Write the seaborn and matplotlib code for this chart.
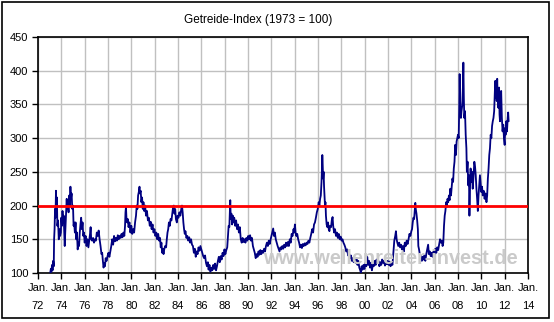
import matplotlib
matplotlib.use("Agg")
import matplotlib.pyplot as plt
import numpy as np
import pandas as pd
import seaborn as sns
from matplotlib.patches import Rectangle

# ---- data (decimal year, index value) ----
years_7382 = [1973.05, 1973.10, 1973.15, 1973.20, 1973.25, 1973.30, 1973.35, 1973.38, 1973.42, 1973.46,
              1973.50, 1973.54, 1973.58, 1973.62, 1973.66, 1973.72, 1973.78, 1973.84, 1973.90, 1973.96,
              1974.00, 1974.05, 1974.10, 1974.15, 1974.20, 1974.25, 1974.29, 1974.33, 1974.40, 1974.46,
              1974.50, 1974.55, 1974.62, 1974.68, 1974.74, 1974.78, 1974.82, 1974.88, 1974.94, 1975.00,
              1975.05, 1975.10, 1975.16, 1975.22, 1975.28, 1975.34, 1975.40, 1975.46, 1975.52, 1975.58,
              1975.64, 1975.70, 1975.76, 1975.82, 1975.88, 1975.94, 1976.00, 1976.08, 1976.16, 1976.24,
              1976.32, 1976.40, 1976.46, 1976.51, 1976.56, 1976.64, 1976.72, 1976.80, 1976.88, 1976.96,
              1977.04, 1977.12, 1977.20, 1977.28, 1977.36, 1977.44, 1977.50, 1977.56, 1977.62, 1977.68,
              1977.74, 1977.80, 1977.88, 1977.96, 1978.04, 1978.12, 1978.20, 1978.28, 1978.36, 1978.44,
              1978.52, 1978.60, 1978.68, 1978.76, 1978.84, 1978.92, 1979.00, 1979.08, 1979.16, 1979.24,
              1979.32, 1979.40, 1979.46, 1979.50, 1979.54, 1979.58, 1979.64, 1979.70, 1979.76, 1979.84,
              1979.92, 1980.00, 1980.08, 1980.16, 1980.24, 1980.32, 1980.40, 1980.46, 1980.52, 1980.58,
              1980.64, 1980.70, 1980.74, 1980.80, 1980.86, 1980.92, 1980.98, 1981.04, 1981.10, 1981.18,
              1981.26, 1981.34, 1981.42, 1981.50, 1981.58, 1981.66, 1981.74, 1981.82, 1981.90, 1981.98,
              1982.06, 1982.14, 1982.22, 1982.30, 1982.38, 1982.46, 1982.52, 1982.58, 1982.64, 1982.70,
              1982.76, 1982.82, 1982.90, 1982.98]
values_7382 = [100, 106, 102, 112, 104, 118, 110, 150, 165, 195,
               182, 222, 200, 212, 170, 178, 150, 165, 155, 160,
               182, 170, 192, 175, 185, 160, 140, 158, 185, 210,
               195, 205, 190, 215, 200, 228, 210, 218, 195, 200,
               170, 175, 160, 175, 150, 160, 135, 145, 140, 160,
               172, 182, 165, 175, 155, 160, 145, 155, 140, 150,
               138, 150, 158, 168, 150, 148, 152, 145, 150, 148,
               160, 155, 163, 150, 140, 128, 130, 118, 108, 115,
               110, 122, 118, 125, 130, 124, 132, 140, 150, 142,
               155, 147, 152, 148, 156, 150, 155, 152, 158, 153,
               160, 155, 170, 190, 198, 182, 175, 180, 168, 175,
               160, 170, 158, 165, 160, 175, 185, 200, 195, 215,
               220, 228, 218, 222, 205, 212, 195, 205, 192, 200,
               185, 192, 178, 182, 170, 176, 165, 172, 160, 165,
               155, 160, 150, 158, 148, 152, 138, 145, 130, 136,
               128, 135, 140, 138]

years_8392 = [1983.04, 1983.10, 1983.16, 1983.22, 1983.30, 1983.36, 1983.44, 1983.52, 1983.58, 1983.64,
              1983.70, 1983.76, 1983.82, 1983.90, 1983.96, 1984.04, 1984.12, 1984.20, 1984.28, 1984.34,
              1984.40, 1984.46, 1984.52, 1984.58, 1984.64, 1984.72, 1984.80, 1984.88, 1984.96, 1985.04,
              1985.12, 1985.20, 1985.28, 1985.36, 1985.44, 1985.52, 1985.60, 1985.68, 1985.76, 1985.84,
              1985.92, 1986.00, 1986.08, 1986.16, 1986.24, 1986.32, 1986.40, 1986.48, 1986.56, 1986.62,
              1986.70, 1986.78, 1986.86, 1986.94, 1987.02, 1987.10, 1987.18, 1987.26, 1987.34, 1987.42,
              1987.50, 1987.58, 1987.66, 1987.74, 1987.82, 1987.90, 1987.98, 1988.06, 1988.14, 1988.22,
              1988.28, 1988.34, 1988.40, 1988.45, 1988.48, 1988.52, 1988.58, 1988.64, 1988.70, 1988.76,
              1988.82, 1988.90, 1988.98, 1989.06, 1989.14, 1989.22, 1989.30, 1989.38, 1989.46, 1989.54,
              1989.62, 1989.70, 1989.78, 1989.86, 1989.94, 1990.02, 1990.10, 1990.18, 1990.26, 1990.34,
              1990.42, 1990.50, 1990.58, 1990.66, 1990.74, 1990.82, 1990.90, 1990.98, 1991.06, 1991.14,
              1991.22, 1991.30, 1991.38, 1991.46, 1991.54, 1991.62, 1991.70, 1991.78, 1991.86, 1991.94,
              1992.02, 1992.10, 1992.16, 1992.22, 1992.30, 1992.38, 1992.46, 1992.54, 1992.62, 1992.70,
              1992.78, 1992.86, 1992.94]
values_8392 = [150, 160, 165, 175, 170, 180, 178, 190, 198, 200,
               188, 195, 180, 175, 185, 182, 190, 185, 195, 200,
               190, 175, 165, 158, 162, 152, 155, 148, 153, 145,
               150, 142, 140, 130, 136, 124, 132, 128, 138, 133,
               140, 135, 130, 125, 122, 126, 115, 110, 116, 105,
               112, 102, 108, 104, 112, 106, 114, 104, 110, 118,
               124, 116, 125, 120, 130, 125, 135, 128, 134, 138,
               155, 170, 168, 195, 208, 180, 188, 172, 185, 175,
               182, 170, 178, 165, 172, 160, 168, 150, 145, 152,
               146, 150, 145, 152, 148, 155, 150, 156, 148, 152,
               140, 135, 130, 122, 128, 124, 132, 127, 134, 128,
               133, 130, 136, 132, 140, 145, 140, 148, 143, 150,
               156, 162, 166, 155, 160, 150, 145, 140, 136, 132,
               138, 135, 140]

years_9302 = [1993.02, 1993.10, 1993.18, 1993.26, 1993.34, 1993.42, 1993.50, 1993.58, 1993.66, 1993.74,
              1993.82, 1993.90, 1993.96, 1994.02, 1994.08, 1994.14, 1994.22, 1994.30, 1994.38, 1994.46,
              1994.54, 1994.62, 1994.70, 1994.78, 1994.86, 1994.94, 1995.02, 1995.10, 1995.18, 1995.26,
              1995.34, 1995.42, 1995.50, 1995.58, 1995.66, 1995.74, 1995.82, 1995.90, 1995.98, 1996.06,
              1996.12, 1996.18, 1996.24, 1996.30, 1996.34, 1996.37, 1996.40, 1996.44, 1996.48, 1996.52,
              1996.56, 1996.60, 1996.64, 1996.68, 1996.74, 1996.80, 1996.86, 1996.92, 1996.98, 1997.04,
              1997.12, 1997.18, 1997.25, 1997.30, 1997.38, 1997.46, 1997.54, 1997.62, 1997.70, 1997.78,
              1997.86, 1997.94, 1998.02, 1998.10, 1998.18, 1998.26, 1998.34, 1998.42, 1998.50, 1998.58,
              1998.66, 1998.74, 1998.82, 1998.90, 1998.98, 1999.06, 1999.14, 1999.22, 1999.30, 1999.38,
              1999.46, 1999.54, 1999.62, 1999.68, 1999.74, 1999.82, 1999.90, 1999.98, 2000.06, 2000.14,
              2000.22, 2000.30, 2000.38, 2000.46, 2000.54, 2000.62, 2000.70, 2000.78, 2000.86, 2000.94,
              2001.02, 2001.10, 2001.18, 2001.26, 2001.34, 2001.42, 2001.50, 2001.58, 2001.66, 2001.74,
              2001.82, 2001.90, 2001.98, 2002.06, 2002.14, 2002.22, 2002.30, 2002.38, 2002.46, 2002.54,
              2002.62, 2002.68, 2002.74, 2002.80, 2002.88, 2002.96]
values_9302 = [136, 142, 138, 145, 140, 146, 140, 150, 145, 158,
               155, 165, 160, 172, 160, 155, 158, 150, 145, 138,
               142, 137, 143, 140, 144, 141, 145, 143, 148, 145,
               152, 158, 165, 160, 172, 175, 182, 190, 195, 205,
               200, 210, 215, 235, 255, 275, 262, 240, 250, 228,
               215, 200, 205, 185, 172, 168, 175, 165, 162, 170,
               168, 178, 183, 170, 160, 165, 155, 160, 152, 158,
               150, 154, 148, 150, 145, 142, 138, 132, 135, 126,
               130, 122, 126, 118, 122, 116, 120, 115, 122, 112,
               118, 108, 104, 100, 110, 105, 112, 106, 115, 110,
               124, 112, 118, 108, 115, 104, 112, 110, 118, 112,
               120, 115, 118, 110, 116, 112, 120, 115, 118, 111,
               117, 113, 118, 112, 117, 110, 116, 112, 130, 148,
               155, 162, 150, 145, 140, 145]

years_0312 = [2003.04, 2003.12, 2003.20, 2003.28, 2003.36, 2003.44, 2003.52, 2003.60, 2003.68, 2003.76,
              2003.84, 2003.92, 2004.00, 2004.06, 2004.12, 2004.18, 2004.24, 2004.30, 2004.34, 2004.38,
              2004.44, 2004.50, 2004.56, 2004.60, 2004.66, 2004.72, 2004.78, 2004.84, 2004.90, 2004.96,
              2005.04, 2005.12, 2005.20, 2005.28, 2005.36, 2005.44, 2005.50, 2005.58, 2005.66, 2005.74,
              2005.82, 2005.90, 2005.98, 2006.06, 2006.14, 2006.22, 2006.30, 2006.38, 2006.46, 2006.54,
              2006.62, 2006.68, 2006.74, 2006.80, 2006.86, 2006.92, 2006.98, 2007.04, 2007.10, 2007.16,
              2007.22, 2007.28, 2007.34, 2007.40, 2007.46, 2007.52, 2007.58, 2007.64, 2007.70, 2007.76,
              2007.82, 2007.88, 2007.94, 2008.00, 2008.06, 2008.10, 2008.14, 2008.17, 2008.20, 2008.25,
              2008.30, 2008.36, 2008.42, 2008.46, 2008.50, 2008.54, 2008.60, 2008.66, 2008.72, 2008.76,
              2008.82, 2008.88, 2008.94, 2008.98, 2009.02, 2009.08, 2009.14, 2009.20, 2009.26, 2009.32,
              2009.40, 2009.46, 2009.52, 2009.58, 2009.64, 2009.70, 2009.76, 2009.82, 2009.88, 2009.94,
              2010.00, 2010.06, 2010.12, 2010.20, 2010.28, 2010.36, 2010.44, 2010.50, 2010.56, 2010.62,
              2010.68, 2010.74, 2010.80, 2010.86, 2010.92, 2010.98, 2011.04, 2011.10, 2011.16, 2011.20,
              2011.24, 2011.28, 2011.32, 2011.36, 2011.40, 2011.46, 2011.52, 2011.56, 2011.60, 2011.66,
              2011.70, 2011.76, 2011.82, 2011.88, 2011.94, 2012.00, 2012.04, 2012.08, 2012.14, 2012.20,
              2012.26, 2012.30, 2012.34]
values_0312 = [138, 142, 135, 140, 132, 145, 140, 148, 143, 150,
               158, 155, 162, 165, 175, 182, 180, 195, 204, 195,
               188, 178, 165, 140, 135, 128, 122, 126, 118, 124,
               120, 126, 118, 128, 135, 142, 128, 132, 125, 130,
               124, 132, 128, 136, 130, 138, 134, 142, 150, 145,
               148, 140, 145, 170, 185, 192, 205, 198, 210, 205,
               215, 208, 225, 215, 228, 240, 235, 255, 265, 290,
               275, 295, 300, 305, 300, 340, 395, 360, 345, 330,
               340, 348, 375, 412, 360, 330, 340, 305, 285, 250,
               265, 230, 245, 185, 220, 255, 235, 250, 225, 240,
               265, 258, 245, 225, 210, 192, 215, 230, 245, 232,
               220, 228, 215, 222, 210, 218, 205, 215, 240, 255,
               275, 285, 305, 300, 318, 325, 330, 340, 370, 385,
               360, 375, 355, 388, 360, 345, 375, 335, 325, 355,
               370, 330, 310, 320, 300, 290, 315, 305, 325, 310,
               330, 338, 325]

threshold = 200
x_ticks = list(range(1972, 2015, 2))
x_labels = ["Jan.\n%02d" % (y % 100) for y in x_ticks]
y_ticks = list(range(100, 451, 50))
title = "Getreide-Index (1973 = 100)"
watermark = "www.wellenreiter-invest.de"

df = pd.DataFrame({
    "year": years_7382 + years_8392 + years_9302 + years_0312,
    "value": values_7382 + values_8392 + values_9302 + values_0312,
})

sns.set_theme(style="white")
plt.rcParams["font.family"] = ["Liberation Sans", "DejaVu Sans"]

W, H = 554, 322
fig = plt.figure(figsize=(W / 100, H / 100), dpi=100)
fig.patch.set_facecolor("white")
fig.patches.append(Rectangle((1.5 / W, 4.5 / H), 547 / W, 316 / H, transform=fig.transFigure,
                             fill=False, edgecolor="black", linewidth=1.2, zorder=0))

ax = fig.add_axes([38 / W, 1 - 273 / H, 490 / W, 236 / H])
ax.set_facecolor("white")

fig.text(390 / W, 1 - 259 / H, watermark, ha="center", va="center", fontsize=14.3,
         color="#cacaca", fontweight="bold", zorder=1)

sns.lineplot(data=df, x="year", y="value", color="#000080", linewidth=1.3,
             estimator=None, sort=False, ax=ax, zorder=3)
ax.axhline(threshold, color="#ff0000", linewidth=2, zorder=4)

ax.set_xlim(1972, 2014)
ax.set_ylim(100, 450)
ax.set_xticks(x_ticks)
ax.set_xticklabels(x_labels, fontsize=8, linespacing=2.0)
ax.set_yticks(y_ticks)
ax.set_yticklabels([str(v) for v in y_ticks], fontsize=8)
ax.set_xlabel("")
ax.set_ylabel("")
ax.grid(True, color="#c0c0c0", linewidth=1)
ax.set_axisbelow(True)
for s in ax.spines.values():
    s.set_visible(True)
    s.set_color("black")
    s.set_linewidth(1.2)
ax.tick_params(axis="both", direction="out", length=4, width=1, color="black",
               labelcolor="black", bottom=True, left=True, pad=3)

fig.text(258 / W, 1 - 20 / H, title, ha="center", va="center", fontsize=8.5, color="black")

fig.savefig("out.png", dpi=100)
